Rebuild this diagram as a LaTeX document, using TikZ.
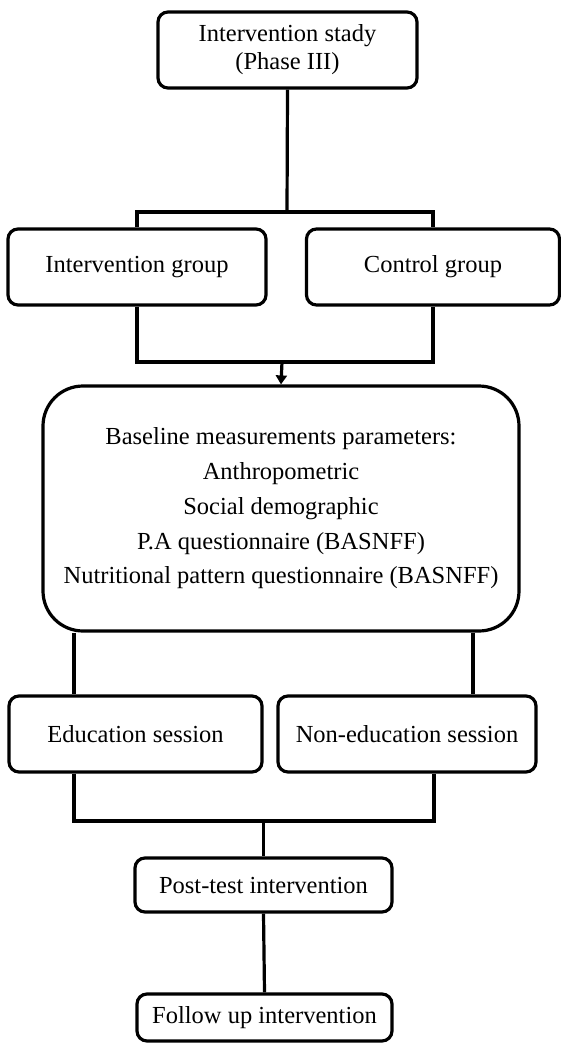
\documentclass[tikz,border=0pt]{standalone}
\usepackage{fontspec}
\setmainfont{Liberation Serif}
\usetikzlibrary{arrows.meta}
\begin{document}
\begin{tikzpicture}[x=1pt,y=-1pt,
  box/.style={draw=black, line width=3.2pt, rounded corners=10pt, inner sep=0pt,
    fill=white, align=center, font=\fontsize{24.5}{28}\selectfont},
  bigbox/.style={box, rounded corners=40pt, font=\fontsize{24.5}{34.7}\selectfont},
  conn/.style={draw=black, line width=3.2pt},
  tip/.style={-{Triangle[length=9pt,width=11pt]}}
]
\fill[white] (0,0) rectangle (561,1043);
\useasboundingbox (0,0) rectangle (561,1043);

% nodes
\node[box, minimum width=259pt, minimum height=76pt] (top) at (287.5,50)
  {Intervention stady\\(Phase III)};
\node[box, minimum width=258pt, minimum height=76pt] (int) at (137,267) {Intervention group};
\node[box, minimum width=253pt, minimum height=76pt] (ctl) at (433,267) {Control group};
\node[bigbox, minimum width=476pt, minimum height=245pt] (base) at (281,508.5)
  {Baseline measurements parameters:\\Anthropometric\\Social demographic\\P.A questionnaire (BASNFF)\\Nutritional pattern questionnaire (BASNFF)};
\node[box, minimum width=253pt, minimum height=76pt] (edu) at (135.5,734) {Education session};
\node[box, minimum width=258pt, minimum height=76pt] (non) at (407,734) {Non-education session};
\node[box, minimum width=257pt, minimum height=54pt] (post) at (263.5,885) {Post-test intervention};
\node[box, minimum width=255pt, minimum height=47pt] (fol) at (264.5,1017.5) {Follow up intervention};

% junction coordinates
\coordinate (j1) at (287,212);
\coordinate (j2) at (282,362);
\coordinate (bl) at (74,0);
\coordinate (br) at (473,0);
\coordinate (el) at (74,0);
\coordinate (er) at (434,0);
\coordinate (j3) at (263.5,821);

% connectors
\draw[conn] (top.south) -- (j1);
\draw[conn] (int.north) |- (j1) -| (ctl.north);
\draw[conn] (int.south) |- (j2) -| (ctl.south);
\draw[conn, tip] (j2) -- (base.north);
\draw[conn] (base.south -| bl) -- (edu.north -| bl);
\draw[conn] (base.south -| br) -- (non.north -| br);
\draw[conn] (edu.south -| el) |- (j3) -| (non.south -| er);
\draw[conn] (j3) -- (post.north);
\draw[conn] (post.south) -- (fol.north);
\end{tikzpicture}
\end{document}
